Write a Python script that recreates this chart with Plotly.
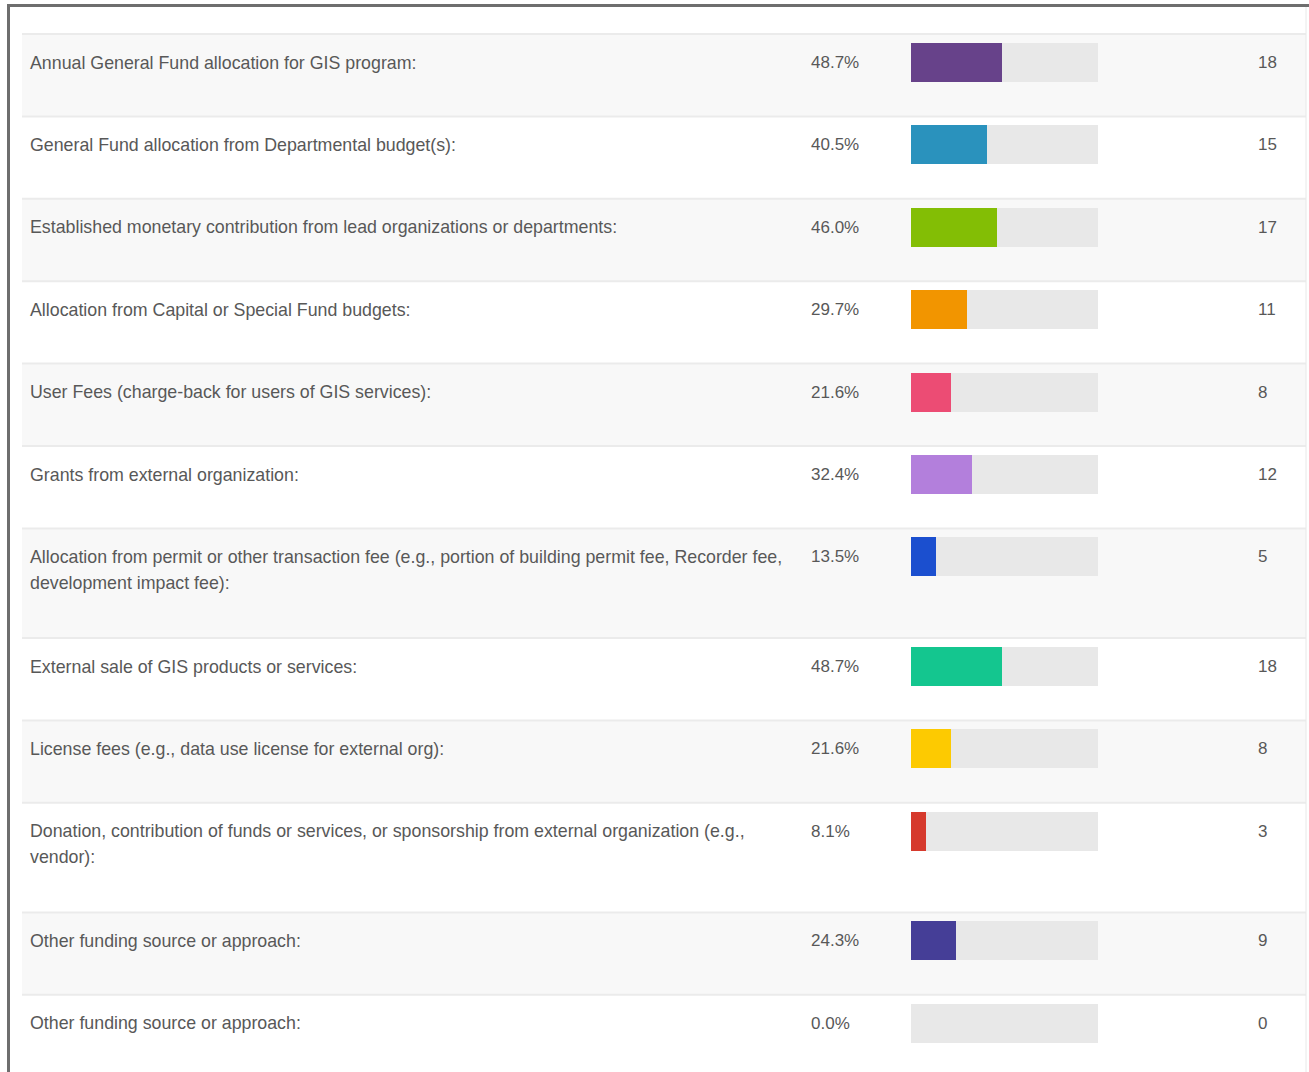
import plotly.graph_objects as go

# Survey answer choices (a "<br>" marks where a long label wraps)
labels = [
    "Annual General Fund allocation for GIS program:",
    "General Fund allocation from Departmental budget(s):",
    "Established monetary contribution from lead organizations or departments:",
    "Allocation from Capital or Special Fund budgets:",
    "User Fees (charge-back for users of GIS services):",
    "Grants from external organization:",
    "Allocation from permit or other transaction fee (e.g., portion of building permit fee, Recorder fee,<br>development impact fee):",
    "External sale of GIS products or services:",
    "License fees (e.g., data use license for external org):",
    "Donation, contribution of funds or services, or sponsorship from external organization (e.g.,<br>vendor):",
    "Other funding source or approach:",
    "Other funding source or approach:",
]
percents = [48.7, 40.5, 46.0, 29.7, 21.6, 32.4, 13.5, 48.7, 21.6, 8.1, 24.3, 0.0]
counts = [18, 15, 17, 11, 8, 12, 5, 18, 8, 3, 9, 0]
bar_colors = [
    "#67428a", "#2a92bd", "#83be05", "#f29500", "#ec4c74", "#b37fdc",
    "#1b4fcf", "#14c68f", "#fdca01", "#d63a2d", "#453e97", "#e8e8e8",
]

# Page geometry (pixels)
W, H = 1309, 1072
TABLE_TOP = 34.0
ROW_BASE = 82.4        # height of a one-line row
ROW_EXTRA = 27.2       # added height per wrapped line
BAR_OFFSET = 28.5      # row top -> bar centre
BAR_H = 39
LINE_GAP = 26
TEXT_COLOR = "#585858"
FONT = "Liberation Sans, Arial, sans-serif"
TRACK_X0, TRACK_X1 = 911, 1098

# Row layout derived from the number of label lines
row_tops, centers, line_lists = [], [], []
y = TABLE_TOP
for lab in labels:
    lines = lab.split("<br>")
    line_lists.append(lines)
    row_tops.append(y)
    centers.append(y + BAR_OFFSET)
    y += ROW_BASE + ROW_EXTRA * (len(lines) - 1)
row_bottoms = row_tops[1:] + [y]

fig = go.Figure()

# Grey track behind every bar (full 100 %)
fig.add_trace(go.Bar(
    x=[100] * len(labels), y=centers, orientation="h", width=BAR_H,
    marker=dict(color="#e8e8e8", line=dict(width=0)),
    xaxis="x2", yaxis="y", hoverinfo="skip", showlegend=False,
))
# Share of respondents
fig.add_trace(go.Bar(
    x=percents, y=centers, orientation="h", width=BAR_H,
    marker=dict(color=bar_colors, line=dict(width=0)),
    xaxis="x2", yaxis="y", showlegend=False,
    customdata=counts,
    hovertemplate="%{x:.1f}% (%{customdata})<extra></extra>",
))

shapes = []
# Alternating row shading and row separators
for i, (t, b) in enumerate(zip(row_tops, row_bottoms)):
    if i % 2 == 0:
        shapes.append(dict(type="rect", xref="x", yref="y", x0=22, x1=1306,
                           y0=t, y1=b, fillcolor="#f8f8f8", line_width=0, layer="below"))
    shapes.append(dict(type="line", xref="x", yref="y", x0=22, x1=1306,
                       y0=t, y1=t, line=dict(color="#ebebeb", width=2), layer="below"))
# Frame: dark top and left edges, faint right edge
shapes.append(dict(type="line", xref="x", yref="y", x0=1306, x1=1306, y0=7, y1=H,
                   line=dict(color="#e8e8e8", width=1), layer="below"))
shapes.append(dict(type="line", xref="x", yref="y", x0=7, x1=W, y0=5.5, y1=5.5,
                   line=dict(color="#6e6e6e", width=3)))
shapes.append(dict(type="line", xref="x", yref="y", x0=8.5, x1=8.5, y0=4, y1=H,
                   line=dict(color="#6e6e6e", width=3)))

annotations = []
for lines, c, p, n in zip(line_lists, centers, percents, counts):
    for k, ln in enumerate(lines):
        annotations.append(dict(
            x=28, y=c + LINE_GAP * k, xref="x", yref="y", text=ln,
            xanchor="left", yanchor="middle", showarrow=False,
            font=dict(family=FONT, size=17.8, color=TEXT_COLOR),
        ))
    annotations.append(dict(
        x=809, y=c, xref="x", yref="y", text=f"{p:.1f}%",
        xanchor="left", yanchor="middle", showarrow=False,
        font=dict(family=FONT, size=17, color=TEXT_COLOR),
    ))
    annotations.append(dict(
        x=1256, y=c, xref="x", yref="y", text=str(n),
        xanchor="left", yanchor="middle", showarrow=False,
        font=dict(family=FONT, size=17, color=TEXT_COLOR),
    ))

fig.update_layout(
    width=W, height=H,
    margin=dict(l=0, r=0, t=0, b=0, pad=0),
    paper_bgcolor="white", plot_bgcolor="rgba(0,0,0,0)",
    barmode="overlay", bargap=0,
    xaxis=dict(range=[0, W], domain=[0, 1], visible=False, fixedrange=True),
    xaxis2=dict(range=[0, 100], domain=[TRACK_X0 / W, TRACK_X1 / W],
                anchor="y", visible=False, fixedrange=True),
    yaxis=dict(range=[H, 0], domain=[0, 1], visible=False, fixedrange=True),
    shapes=shapes, annotations=annotations,
    showlegend=False,
)

fig.write_html("out.html", config={"displayModeBar": False})
